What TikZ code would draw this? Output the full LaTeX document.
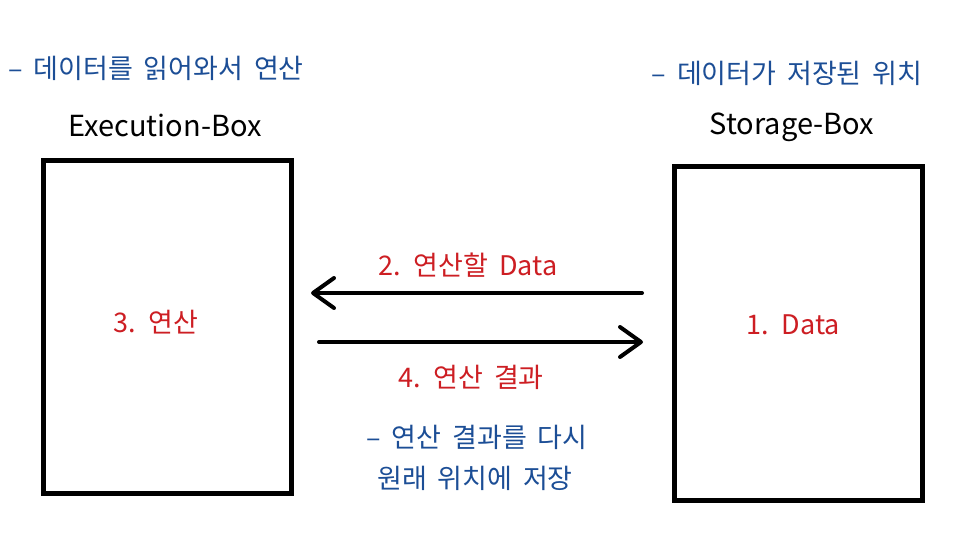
\documentclass[tikz,border=0pt]{standalone}
\usepackage{fontspec}
\setmainfont{Noto Sans CJK KR}
\newfontfamily\widefont[WordSpace=1.8]{Noto Sans CJK KR}
\usetikzlibrary{arrows.meta}
\definecolor{noteblue}{RGB}{28,78,150}
\definecolor{labred}{RGB}{205,30,35}
\tikzset{
  box/.style={draw=black, line width=4.5pt, minimum width=248pt, minimum height=333pt, anchor=north west, inner sep=0pt},
  note/.style={text=noteblue, font=\widefont\fontsize{27}{31}\selectfont, inner sep=0pt},
  title/.style={text=black, font=\fontsize{29}{33}\selectfont, inner sep=0pt},
  lab/.style={text=labred, font=\widefont\fontsize{27}{31}\selectfont, inner sep=0pt},
  flow/.style={line width=4pt, line cap=round, -{Straight Barb[length=21pt, width=30pt, line width=4pt, round]}}
}
\begin{document}
\begin{tikzpicture}[x=1pt, y=-1pt]
\useasboundingbox[fill=white] (0,0) rectangle (960,536);
\node[box] (exec) at (41,158) {};
\node[box, minimum height=334pt] (store) at (672,164) {};
\node[note] (n1) at (156,68) {– 데이터를 읽어와서 연산};
\node[title] (t1) at (165,125) {Execution-Box};
\node[note] (n2) at (787,73) {– 데이터가 저장된 위치};
\node[title] (t2) at (792,127) {Storage-Box};
\node[lab] (l3) at (156,322) {3. 연산};
\node[lab] (l1) at (793,325) {1. Data};
\node[lab] (l2) at (468,265) {2. 연산할 Data};
\node[lab] (l4) at (471,377) {4. 연산 결과};
\node[note] (n3) at (477,437) {– 연산 결과를 다시};
\node[note] (n4) at (475,478) {원래 위치에 저장};
\coordinate (a1s) at (642,293);
\coordinate (a1e) at (311,293);
\coordinate (a2s) at (319,342);
\coordinate (a2e) at (643,342);
\draw[flow] (a1s) -- (a1e);
\draw[flow] (a2s) -- (a2e);
\end{tikzpicture}
\end{document}
